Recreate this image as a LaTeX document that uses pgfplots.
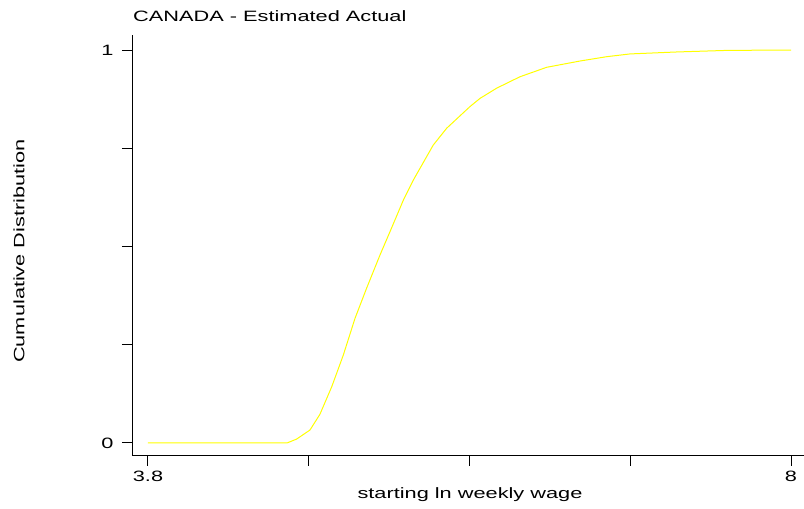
\documentclass[border=0pt]{standalone}
\usepackage{pgfplots}
\pgfplotsset{compat=1.18}
\usepackage{fontspec}
\setmainfont{Liberation Sans}[FakeStretch=1.45]
\definecolor{cdfyellow}{RGB}{255,255,0}

\begin{document}
\begin{tikzpicture}[x=1pt,y=1pt]
\begin{axis}[
    at={(132pt,53pt)}, anchor=south west,
    scale only axis,
    width=672pt, height=421pt,
    xmin=3.6955, xmax=8.0849,
    ymin=-0.0331, ymax=1.0382,
    axis x line*=bottom, axis y line*=left,
    axis line style={line width=1pt, -},
    tick align=outside,
    major tick length=10pt,
    every tick/.style={black, line width=1pt},
    xtick={3.8,4.85,5.9,6.95,8},
    xticklabels={3.8,{},{},{},8},
    ytick={0,0.25,0.5,0.75,1},
    yticklabels={0,{},{},{},1},
    tick label style={font=\fontsize{15}{18}\selectfont},
    xticklabel style={yshift=-1pt},
    yticklabel style={xshift=-5pt},
    clip=false,
]
\addplot[cdfyellow, line width=1pt] coordinates {
(3.8,0) (4.708,0) (4.771,0.010) (4.858,0.033) (4.923,0.073)
(5.000,0.143) (5.076,0.224) (5.152,0.317) (5.228,0.394) (5.315,0.478)
(5.381,0.538) (5.468,0.618) (5.533,0.669) (5.663,0.758) (5.751,0.801)
(5.903,0.856) (5.969,0.877) (6.078,0.903) (6.230,0.932) (6.404,0.956)
(6.622,0.972) (6.796,0.983) (6.948,0.990) (7.253,0.995) (7.580,0.999)
(8.0,1.0)
};
\end{axis}
\node[anchor=base west, inner sep=0pt, font=\fontsize{15}{18}\selectfont] at (133,487.5) {CANADA - Estimated Actual};
\node[anchor=base, font=\fontsize{15}{18}\selectfont] at (470,10.7) {starting ln weekly wage};
\node[anchor=base, rotate=90, font=\fontsize{15}{18}\selectfont] at (24.5,258) {Cumulative Distribution};
\pgfresetboundingbox
\path[use as bounding box] (0,0) rectangle (804,509);
\end{tikzpicture}
\end{document}
